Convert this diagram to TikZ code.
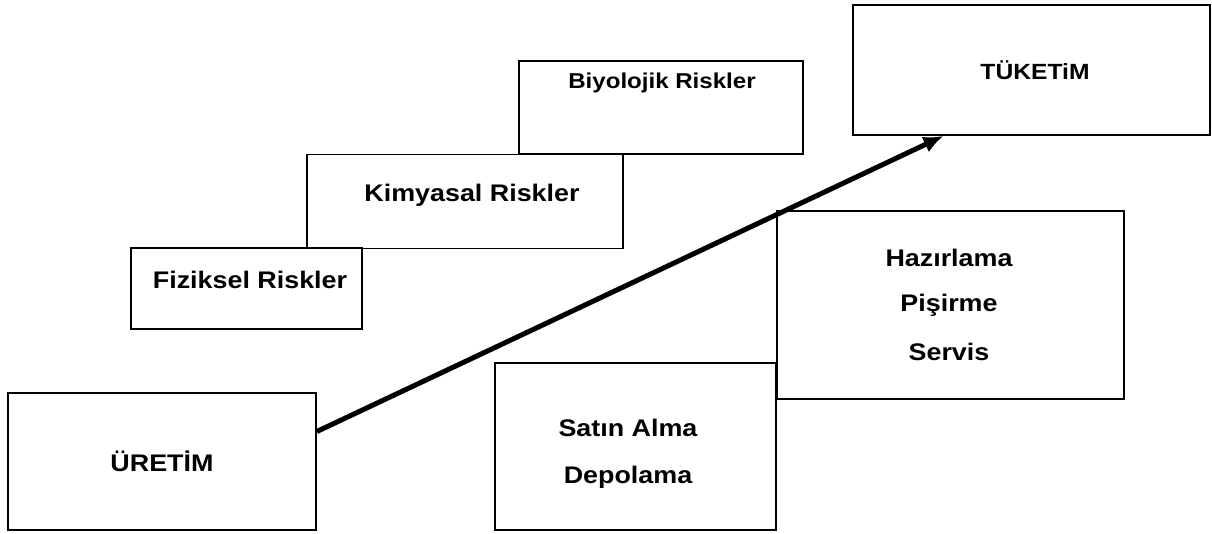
\documentclass[tikz,border=0pt]{standalone}
\usepackage{fontspec}
\setmainfont{Liberation Sans}[FakeStretch=1.12]
\usetikzlibrary{arrows.meta}

\tikzset{
  riskbox/.style={draw, line width=1.8pt, rectangle, inner sep=0pt},
  boxtext/.style={font=\bfseries\fontsize{24}{28}\selectfont, inner sep=0pt},
  flowarrow/.style={line width=5pt, -{Latex[length=20pt,width=17pt]}}
}

\begin{document}
\begin{tikzpicture}[x=1pt, y=-1pt]
      \useasboundingbox (0,0) rectangle (1212,534);

      % Boxes (centre, width x height in px)
      \node[riskbox, minimum width=308pt, minimum height=137pt] (uretim) at (162,461.5) {};
      \node[riskbox, minimum width=231pt, minimum height=81pt] (fiziksel) at (246.5,288.5) {};
      \node[riskbox, minimum width=316pt, minimum height=94pt] (kimyasal) at (465,201.5) {};
      \node[riskbox, minimum width=284pt, minimum height=93pt] (biyolojik) at (661,107.5) {};
      \node[riskbox, minimum width=357pt, minimum height=130pt] (tuketim) at (1031.5,70) {};
      \node[riskbox, minimum width=281pt, minimum height=167pt] (satin) at (635.5,446.5) {};
      \node[riskbox, minimum width=347pt, minimum height=188pt] (hazirlama) at (950.5,305) {};

      % Texts
      \node[boxtext] (uretimtxt) at (162,461) {ÜRETİM};
      \node[boxtext] (fizikseltxt) at (250,280) {Fiziksel Riskler};
      \node[boxtext] (kimyasaltxt) at (472,195) {Kimyasal Riskler};
      \node[boxtext, font=\bfseries\fontsize{21.5}{26}\selectfont] (biyolojiktxt) at (662,83) {Biyolojik Riskler};
      \node[boxtext, font=\bfseries\fontsize{22}{26}\selectfont] (tuketimtxt) at (1035,70) {TÜKETiM};
      \node[boxtext] (satintxt) at (628,428) {Satın Alma};
      \node[boxtext] (depolamatxt) at (628,477) {Depolama};
      \node[boxtext] (hazirlamatxt) at (949,258) {Hazırlama};
      \node[boxtext] (pisirmetxt) at (949,305) {Pişirme};
      \node[boxtext] (servistxt) at (949,352) {Servis};

      % Main arrow
      \draw[flowarrow] ([yshift=30pt]uretim.east) -- ([xshift=-88pt]tuketim.south);

    \end{tikzpicture}
\end{document}
